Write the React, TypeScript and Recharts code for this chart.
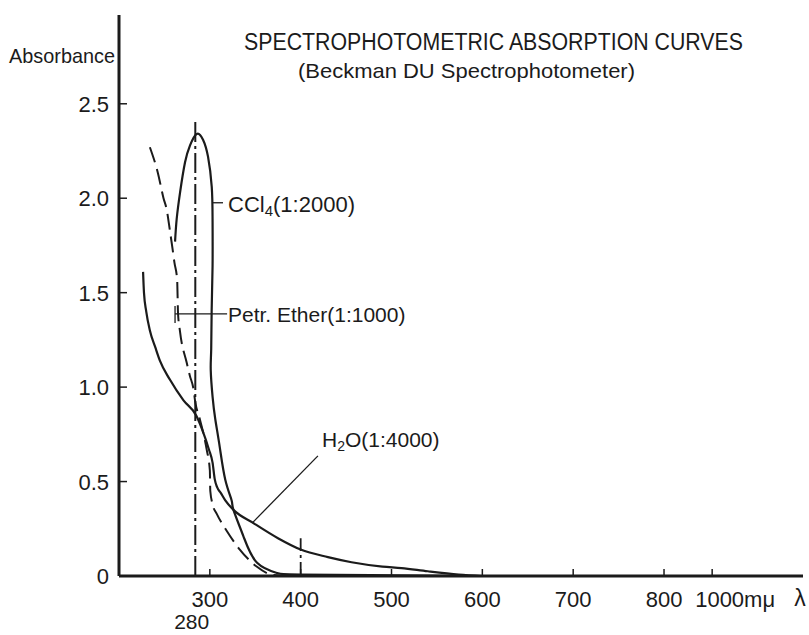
import React from "react";
import {
  ComposedChart,
  Line,
  XAxis,
  YAxis,
  ReferenceLine,
} from "recharts";

// wavelengths (mμ) and absorbance
const h2oWave = [226.5, 227.5, 230, 234, 240, 245, 256, 271, 285, 292, 299, 303, 305.5, 308, 312, 317, 326, 348, 375, 400, 430, 456, 490, 511, 540, 574, 600];
const h2oAbs = [1.61, 1.5, 1.4, 1.3, 1.21, 1.14, 1.04, 0.93, 0.85, 0.77, 0.67, 0.6, 0.51, 0.47, 0.44, 0.4, 0.35, 0.28, 0.2, 0.14, 0.1, 0.073, 0.05, 0.042, 0.025, 0.008, 0];

const etherWave = [234, 243, 249, 252.5, 256, 259, 261, 264, 265, 267, 274.5, 278, 282, 284, 289, 296.5, 300, 300.5, 303, 307.5, 318.5, 333, 351.5, 370, 390];
const etherAbs = [2.27, 2.13, 2.0, 1.94, 1.83, 1.73, 1.66, 1.57, 1.39, 1.3, 1.13, 1.06, 0.99, 0.92, 0.83, 0.67, 0.56, 0.45, 0.38, 0.33, 0.24, 0.14, 0.05, 0.005, 0];

const cclWave = [261.7, 263.5, 267.2, 272.7, 278.2, 285.6, 292.5, 298, 302.1, 303, 303, 302, 301.5, 301, 303, 306, 311, 317, 324, 326, 337, 352, 374, 400, 500, 600];
const cclAbs = [1.77, 1.89, 2.03, 2.19, 2.28, 2.34, 2.31, 2.22, 2.06, 1.89, 1.64, 1.4, 1.2, 1.09, 0.95, 0.83, 0.68, 0.51, 0.4, 0.35, 0.21, 0.07, 0.016, 0.008, 0.004, 0];

const xTickWaves = [280, 300, 400, 500, 600, 700, 800, 1000];
const xTickLabels = ["280", "300", "400", "500", "600", "700", "800", "1000mμ"];
const yTicks = [0, 0.5, 1, 1.5, 2, 2.5];

const peakLine = 284;
const peakTop = 2.42;
const markAt400 = 400;
const markTop = 0.2;

// the axis is squeezed beyond 800 mμ
const pos = (w: number) => (w <= 800 ? w : 800 + (w - 800) * 0.265);
const toRows = (w: number[], a: number[]) => w.map((v, i) => ({ x: pos(v), y: a[i] }));

const h2oData = toRows(h2oWave, h2oAbs);
const etherData = toRows(etherWave, etherAbs);
const cclData = toRows(cclWave, cclAbs);

const INK = "#1b1b1b";
const FONT = "'Liberation Sans', Arial, sans-serif";
const AXIS_Y = 576;
const AXIS_X = 119;

const XTick = (props: any) => {
  const { x, payload, index } = props;
  const label = xTickLabels[index];
  if (payload.value === 280) {
    return (
      <text x={x} y={AXIS_Y + 53} textAnchor="middle" fontSize={21} fill={INK} fontFamily={FONT}>
        {label}
      </text>
    );
  }
  const last = index === xTickLabels.length - 1;
  return (
    <g>
      <line x1={x} x2={x} y1={AXIS_Y} y2={AXIS_Y - 7} stroke={INK} strokeWidth={1.5} />
      <text
        x={last ? x - 17 : x}
        y={AXIS_Y + 31}
        textAnchor={last ? "start" : "middle"}
        fontSize={22}
        fill={INK}
        fontFamily={FONT}
      >
        {label}
      </text>
    </g>
  );
};

const YTick = (props: any) => {
  const { y, payload } = props;
  const v = payload.value;
  return (
    <g>
      <line x1={AXIS_X} x2={AXIS_X + 8} y1={y} y2={y} stroke={INK} strokeWidth={1.5} />
      <text x={109} y={y + 8} textAnchor="end" fontSize={22} fill={INK} fontFamily={FONT}>
        {v === 0 ? "0" : v.toFixed(1)}
      </text>
    </g>
  );
};

export default function App() {
  return (
    <div style={{ position: "absolute", left: 0, top: 0, width: 809, height: 635, background: "#fff" }}>
      <ComposedChart
        width={809}
        height={635}
        margin={{ top: 15, right: 6, bottom: 9, left: 59 }}
      >
        <XAxis
          type="number"
          dataKey="x"
          domain={[200, 953]}
          ticks={xTickWaves.map(pos)}
          interval={0}
          tick={<XTick />}
          tickLine={false}
          axisLine={{ stroke: INK, strokeWidth: 3 }}
          height={50}
          allowDataOverflow
        />
        <YAxis
          type="number"
          domain={[0, 2.97]}
          ticks={yTicks}
          interval={0}
          tick={<YTick />}
          tickLine={false}
          axisLine={{ stroke: INK, strokeWidth: 3 }}
          width={60}
          allowDataOverflow
        />
        <ReferenceLine
          segment={[{ x: pos(peakLine), y: 0 }, { x: pos(peakLine), y: peakTop }]}
          stroke={INK}
          strokeWidth={2}
          strokeDasharray="20 4 3 4"
        />
        <ReferenceLine
          segment={[{ x: pos(markAt400), y: 0 }, { x: pos(markAt400), y: markTop }]}
          stroke={INK}
          strokeWidth={1.8}
          strokeDasharray="14 4 3 4"
        />
        {/* leader lines */}
        <ReferenceLine segment={[{ x: 303.5, y: 1.976 }, { x: 314.5, y: 1.976 }]} stroke={INK} strokeWidth={1.3} />
        <ReferenceLine segment={[{ x: 261.7, y: 1.388 }, { x: 319, y: 1.388 }]} stroke={INK} strokeWidth={1.3} />
        <ReferenceLine segment={[{ x: 261.7, y: 1.43 }, { x: 261.7, y: 1.34 }]} stroke={INK} strokeWidth={1.3} />
        <ReferenceLine segment={[{ x: 346.5, y: 0.28 }, { x: 419, y: 0.636 }]} stroke={INK} strokeWidth={1.3} />
        <Line
          data={h2oData}
          dataKey="y"
          type="monotone"
          stroke={INK}
          strokeWidth={2.2}
          dot={false}
          isAnimationActive={false}
        />
        <Line
          data={etherData}
          dataKey="y"
          type="monotone"
          stroke={INK}
          strokeWidth={2}
          strokeDasharray="16 7"
          dot={false}
          isAnimationActive={false}
        />
        <Line
          data={cclData}
          dataKey="y"
          type="natural"
          stroke={INK}
          strokeWidth={2.2}
          dot={false}
          isAnimationActive={false}
        />
      </ComposedChart>
      <svg
        width={809}
        height={635}
        style={{ position: "absolute", left: 0, top: 0, pointerEvents: "none" }}
        fontFamily={FONT}
        fill={INK}
      >
        <text x={244} y={50} fontSize={23} textLength={499} lengthAdjust="spacingAndGlyphs">
          SPECTROPHOTOMETRIC  ABSORPTION CURVES
        </text>
        <text x={298} y={78} fontSize={21} textLength={337} lengthAdjust="spacingAndGlyphs">
          (Beckman DU Spectrophotometer)
        </text>
        <text x={9} y={63} fontSize={21} textLength={106} lengthAdjust="spacingAndGlyphs">
          Absorbance
        </text>
        <text x={228} y={212} fontSize={22}>
          CCl<tspan fontSize={15} dy={4}>4</tspan>
          <tspan dy={-4}>(1:2000)</tspan>
        </text>
        <text x={228} y={322} fontSize={21}>
          Petr. Ether(1:1000)
        </text>
        <text x={322} y={447} fontSize={21}>
          H<tspan fontSize={14} dy={4}>2</tspan>
          <tspan dy={-4}>O(1:4000)</tspan>
        </text>
        <text x={800} y={606} fontSize={23} textAnchor="middle">
          λ
        </text>
      </svg>
    </div>
  );
}
